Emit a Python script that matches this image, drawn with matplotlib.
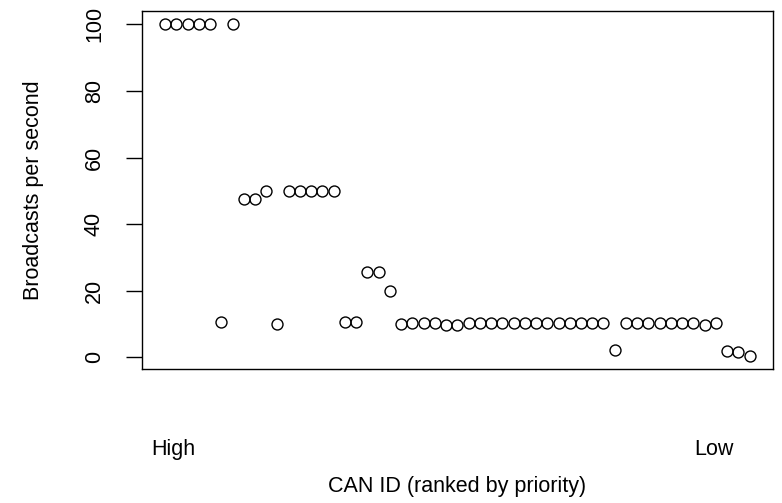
import matplotlib
matplotlib.use("Agg")
import matplotlib.pyplot as plt

plt.rcParams["font.family"] = ["Liberation Sans", "DejaVu Sans"]

# broadcasts per second for each CAN ID, ranked from highest to lowest priority
RATE = [
    100, 100, 100, 100, 100, 10.5, 100, 47.5, 47.5, 50,
    10, 50, 50, 50, 50, 50, 10.5, 10.5, 25.5, 25.5,
    20, 10, 10.3, 10.3, 10.3, 9.8, 9.8, 10.3, 10.3, 10.3,
    10.3, 10.3, 10.3, 10.3, 10.3, 10.3, 10.3, 10.3, 10.3, 10.3,
    2.2, 10.3, 10.3, 10.3, 10.3, 10.3, 10.3, 10.3, 9.8, 10.3,
    2.0, 1.6, 0.4,
]
RANK = list(range(1, len(RATE) + 1))
Y_TICKS = [0, 20, 40, 60, 80, 100]
X_TICK_AT = [1.7, 49.8]
X_TICK_LABELS = ["High", "Low"]

fig = plt.figure(figsize=(7.82, 5.03), dpi=100)
ax = fig.add_axes([0.1812, 0.2658, 0.8073, 0.7123])

ax.plot(RANK, RATE, linestyle="none", marker="o", markersize=7.9,
        markerfacecolor="none", markeredgecolor="black", markeredgewidth=1.0)

span_x = RANK[-1] - RANK[0]
span_y = max(RATE) - min(RATE)
ax.set_xlim(RANK[0] - 0.04 * span_x, RANK[-1] + 0.04 * span_x)
ax.set_ylim(min(RATE) - 0.04 * span_y, max(RATE) + 0.04 * span_y)

for side in ax.spines.values():
    side.set_linewidth(1.0)
    side.set_color("black")

ax.set_yticks(Y_TICKS)
ax.tick_params(axis="y", length=11.5, width=1.0, pad=15, labelsize=15.5,
               labelrotation=90)
for lbl in ax.get_yticklabels():
    lbl.set_va("center")

ax.set_xticks(X_TICK_AT, X_TICK_LABELS)
ax.tick_params(axis="x", length=0, pad=50, labelsize=15.5)

ax.set_ylabel("Broadcasts per second", fontsize=15.5)
ax.yaxis.set_label_coords(-0.155, 0.5)
ax.set_xlabel("CAN ID (ranked by priority)", fontsize=15.5, va="top")
ax.xaxis.set_label_coords(0.5, -0.299)

fig.savefig("out.png", dpi=100, facecolor="white")
